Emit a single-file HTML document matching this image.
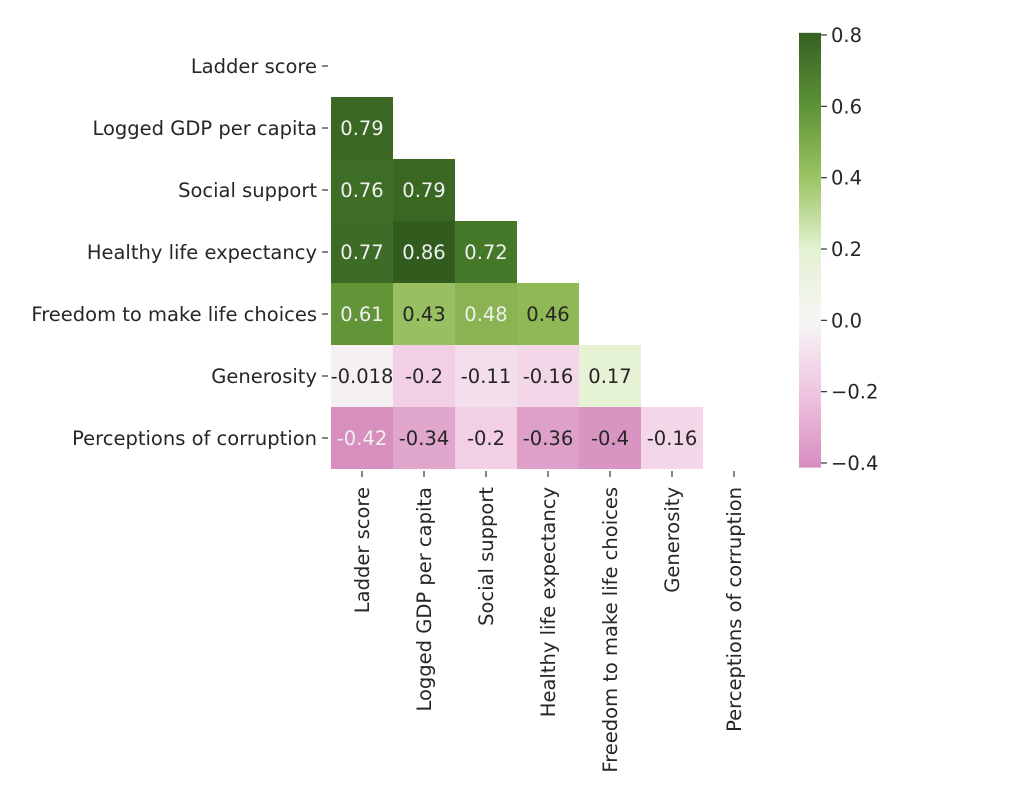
<!DOCTYPE html>
<html><head><meta charset="utf-8"><style>
html,body{margin:0;padding:0;background:#fff;}
svg{display:block;font-family:"DejaVu Sans","Liberation Sans",sans-serif;}
</style></head><body>
<svg id="chart" width="1032" height="786" viewBox="0 0 1032 786" xmlns="http://www.w3.org/2000/svg">
<defs>
<linearGradient id="cbgrad" x1="0" y1="1" x2="0" y2="0">
<stop offset="0" stop-color="#d68cbf"/>
<stop offset="0.167" stop-color="#eec3df"/>
<stop offset="0.333" stop-color="#f7f5f6"/>
<stop offset="0.5" stop-color="#e4f2d2"/>
<stop offset="0.667" stop-color="#9bc462"/>
<stop offset="0.833" stop-color="#5d9236"/>
<stop offset="1" stop-color="#356223"/>
</linearGradient>
</defs>
<g id="cells"></g><g id="ylabels"></g><g id="xlabels"></g><g id="cbar"></g>
</svg>
<script>
const labels = ["Ladder score","Logged GDP per capita","Social support","Healthy life expectancy","Freedom to make life choices","Generosity","Perceptions of corruption"];
const rowValues = [
 [],
 [0.79],
 [0.76,0.79],
 [0.77,0.86,0.72],
 [0.61,0.43,0.48,0.46],
 [-0.018,-0.2,-0.11,-0.16,0.17],
 [-0.42,-0.34,-0.2,-0.36,-0.4,-0.16]
];
const valueText = [
 [],["0.79"],["0.76","0.79"],["0.77","0.86","0.72"],["0.61","0.43","0.48","0.46"],
 ["-0.018","-0.2","-0.11","-0.16","0.17"],["-0.42","-0.34","-0.2","-0.36","-0.4","-0.16"]
];
const cbTicks = [0.8,0.6,0.4,0.2,0.0,-0.2,-0.4];
const cbTickText = ["0.8","0.6","0.4","0.2","0.0","\u22120.2","\u22120.4"];

const NS="http://www.w3.org/2000/svg";
const FS=19.5;
const gx0=331, gy0=35, cw=62;
const xPos=i=>gx0+i*cw, yPos=i=>gy0+i*cw;
const cbY=v=>35+(0.8-v)*(463-35)/1.2;
const stops=[[-0.42,[215,143,190]],[-0.2,[242,207,229]],[0,[245,243,244]],[0.17,[229,242,211]],[0.46,[143,185,85]],[0.61,[98,148,56]],[0.72,[70,120,42]],[0.77,[60,108,37]],[0.86,[50,92,30]]];
function color(v){
 if(v<=stops[0][0])return 'rgb('+stops[0][1]+')';
 for(let i=1;i<stops.length;i++){if(v<=stops[i][0]){const a=stops[i-1],b=stops[i],t=(v-a[0])/(b[0]-a[0]);
  return 'rgb('+a[1].map((c,k)=>Math.round(c+(b[1][k]-c)*t)).join(',')+')';}}
 return 'rgb('+stops[stops.length-1][1]+')';
}
function mk(tag,attrs,parent){const e=document.createElementNS(NS,tag);for(const k in attrs)e.setAttribute(k,attrs[k]);parent.appendChild(e);return e;}
const cells=document.getElementById('cells');
rowValues.forEach((row,r)=>row.forEach((v,c)=>{
 const rect=mk('rect',{x:xPos(c),y:yPos(r),width:cw,height:cw,fill:color(v)},cells);
 
 
 const t=mk('text',{x:xPos(c)+cw/2,y:yPos(r)+cw/2+7,'text-anchor':'middle','font-size':FS,fill:(Math.abs(v)>0.6||v>=0.47&&v<0.5||v<=-0.41)?'#f0f0f0':'#262626'},cells);
 t.textContent=valueText[r][c];
 
 
}));
const yl=document.getElementById('ylabels');
labels.forEach((l,i)=>{
 const cy=yPos(i)+cw/2;
 const tk=mk('line',{x1:322,x2:328,y1:cy,y2:cy,stroke:'#333','stroke-width':1.2},yl);
 
 
 const t=mk('text',{x:317,y:cy+7,'text-anchor':'end','font-size':FS,fill:'#262626'},yl);
 t.textContent=l;
 
 
});
const xl=document.getElementById('xlabels');
labels.forEach((l,i)=>{
 const cx=xPos(i)+cw/2;
 const tk=mk('line',{x1:cx,x2:cx,y1:471,y2:477,stroke:'#333','stroke-width':1.2},xl);
 
 
 const t=mk('text',{x:0,y:0,'text-anchor':'end','font-size':FS,fill:'#262626',transform:`translate(${cx+7},487) rotate(-90)`},xl);
 t.textContent=l;
 
 
});
const cb=document.getElementById('cbar');
const bar=mk('rect',{x:799,y:cbY(0.806),width:22,height:cbY(-0.413)-cbY(0.806),fill:'url(#cbgrad)'},cb);


cbTicks.forEach((v,i)=>{
 const y=cbY(v);
 const tk=mk('line',{x1:821,x2:827,y1:y,y2:y,stroke:'#333','stroke-width':1.2},cb);
 
 
 const t=mk('text',{x:831,y:y+7,'font-size':FS,fill:'#262626'},cb);
 t.textContent=cbTickText[i];
 
 
});
</script>
</body></html>
